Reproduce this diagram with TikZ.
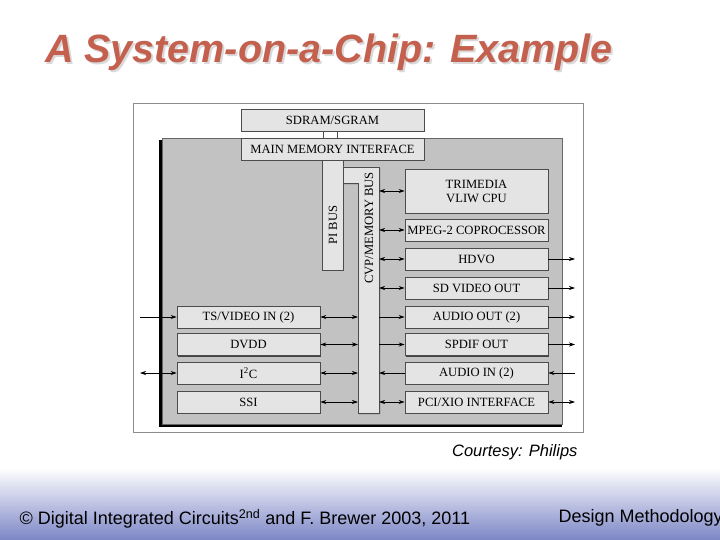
\documentclass[tikz,border=0pt]{standalone}
\usepackage{fontspec}
\setmainfont{Liberation Serif}
\newfontfamily\arial{Liberation Sans}
\usetikzlibrary{arrows.meta,shadows}
\definecolor{titlec}{HTML}{C4604E}
\definecolor{boxf}{HTML}{E4E4E4}
\definecolor{chipf}{HTML}{C2C2C2}
\definecolor{footb}{HTML}{7C86C6}
\begin{document}
\begin{tikzpicture}[x=1pt,y=-1pt,
  bf/.style={font=\fontsize{12.6}{14}\selectfont},
  blk/.style={draw=black!70,line width=0.6pt,fill=boxf,inner sep=1pt,
    drop shadow={shadow xshift=1.2pt,shadow yshift=-1.2pt,fill=black!75,opacity=1},bf},
  bi/.style={{Stealth[length=6pt,width=4pt]}-{Stealth[length=6pt,width=4pt]},line width=0.7pt},
  ar/.style={-{Stealth[length=6pt,width=4pt]},line width=0.7pt}]
\useasboundingbox (0,0) rectangle (720,540);
\fill[white] (0,0) rectangle (720,540);
\shade[top color=white,bottom color=footb] (0,468) rectangle (720,540);
% title
\node[anchor=west,text=black!15,font=\arial\bfseries\itshape\fontsize{39.5}{42}\selectfont] (tsh) at (43.5,54) {A System-on-a-Chip: Example};
\node[anchor=west,text=titlec,font=\arial\bfseries\itshape\fontsize{39.5}{42}\selectfont] (title) at (41.5,52) {A System-on-a-Chip: Example};
% frame and chip
\draw[black!45,line width=0.8pt] (133,103) rectangle (583,432);
\fill[black] (159,140) rectangle (562,427);
\draw[black!60,line width=0.5pt,fill=chipf] (162,138) rectangle (562,424);
% memory
\draw[black!70,line width=0.6pt] (323,131) -- (323,138) (337,131) -- (337,138);
\node[blk,minimum width=183pt,minimum height=22pt] (sdram) at (332.5,120) {SDRAM/SGRAM};
\node[blk,minimum width=183pt,minimum height=22pt] (mmi) at (332.5,149) {MAIN MEMORY INTERFACE};
\node[blk,minimum width=21pt,minimum height=110pt] (pi) at (332.5,215) {};
\node[rotate=90,bf] (pil) at (333,225) {PI BUS};
\path[blk] (343,167) -- (379,167) -- (379,413) -- (358,413) -- (358,183) -- (343,183) -- cycle;
\node[rotate=90,bf] (cvpl) at (369,228) {CVP/MEMORY BUS};
% right boxes
\foreach \n/\y/\h/\t in {cpu/191/44/{TRIMEDIA\\VLIW CPU},mpeg/230/22/{MPEG-2 COPROCESSOR},hdvo/259/22/HDVO,sd/288/22/{SD VIDEO OUT},aout/317/22/{AUDIO OUT (2)},spdif/344.5/22/{SPDIF OUT},ain/373/22/{AUDIO IN (2)},pci/402/22/{PCI/XIO INTERFACE}}
  \node[blk,minimum width=143pt,minimum height=\h pt,align=center] (\n) at (476.5,\y) {\t};
\foreach \n/\y/\t in {ts/317/{TS/VIDEO IN (2)},dvdd/344.5/DVDD,iic/373/{I\textsuperscript{2}C},ssi/402/SSI}
  \node[blk,minimum width=143pt,minimum height=22pt] (\n) at (248.5,\y) {\t};
% bus connectors
\foreach \n in {cpu,mpeg,hdvo,sd,pci} \draw[bi] (379,0 |- \n.west) -- (\n.west);
\foreach \n in {aout,spdif} \draw[ar] (379,0 |- \n.west) -- (\n.west);
\draw[ar] (ain.west) -- (379,0 |- ain.west);
\foreach \n in {ts,dvdd,iic,ssi} \draw[bi] (\n.east) -- (358,0 |- \n.east);
% external
\foreach \n in {hdvo,sd,aout,spdif} { \coordinate (e\n) at (575,0 |- \n.east); \draw[ar] (\n.east) -- (e\n); }
\coordinate (eain) at (575,0 |- ain.east); \draw[ar] (eain) -- (ain.east);
\coordinate (epci) at (575,0 |- pci.east); \draw[bi] (pci.east) -- (epci);
\coordinate (ets) at (140,0 |- ts.west); \draw[ar] (ets) -- (ts.west);
\coordinate (eiic) at (140,0 |- iic.west); \draw[bi] (eiic) -- (iic.west);
% texts
\node[anchor=east,font=\arial\itshape\fontsize{16.5}{18}\selectfont] (court) at (581,452) {Courtesy: Philips};
\node[anchor=west,font=\arial\fontsize{18}{20}\selectfont] (foot) at (16,519) {\textcopyright{} Digital Integrated Circuits\textsuperscript{2nd} and F. Brewer 2003, 2011};
\node[anchor=west,font=\arial\fontsize{18}{20}\selectfont] (dm) at (555,518) {Design Methodology};
\end{tikzpicture}
\end{document}
